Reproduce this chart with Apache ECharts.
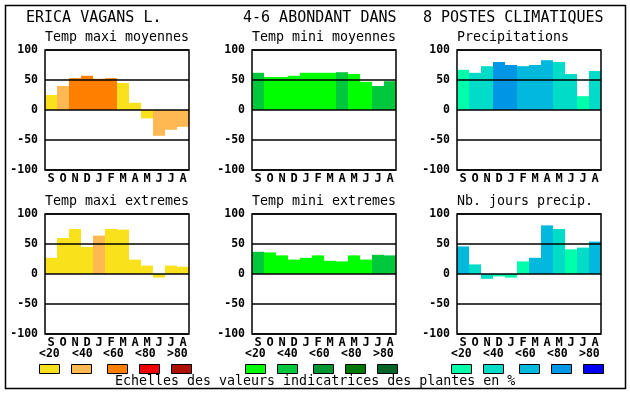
<!DOCTYPE html>
<html><head><meta charset="utf-8">
<script src="https://cdn.jsdelivr.net/npm/echarts@6/dist/echarts.min.js"></script>
<style>html,body{margin:0;padding:0;background:#fff}#c{width:630px;height:394px}</style>
</head><body><div id="c"></div>
<script>
const months = ['S','O','N','D','J','F','M','A','M','J','J','A'];
const yTicks = [-100, -50, 0, 50, 100];
const classLabels = ['<20','<40','<60','<80','>80'];

const titleLeft = 'ERICA VAGANS L.';
const titleMid = '4-6 ABONDANT DANS';
const titleRight = '8 POSTES CLIMATIQUES';
const footer = 'Echelles des valeurs indicatrices des plantes en %';

const panelNames = ['Temp maxi moyennes','Temp mini moyennes','Precipitations',
                    'Temp maxi extremes','Temp mini extremes','Nb. jours precip.'];

const tempMaxMoy = [25, 40, 53, 57, 52, 53, 45, 12, -14, -43, -33, -28];
const tempMaxMoyCls = [1, 2, 3, 3, 3, 3, 1, 1, 1, 2, 2, 2];
const tempMinMoy = [62, 55, 55, 57, 62, 62, 62, 63, 60, 47, 40, 48];
const tempMinMoyCls = [2, 1, 1, 1, 1, 1, 1, 2, 1, 1, 2, 2];
const precip = [67, 62, 73, 80, 75, 73, 75, 83, 80, 60, 23, 65];
const precipCls = [1, 2, 2, 4, 4, 3, 3, 3, 2, 2, 1, 2];
const tempMaxExt = [27, 60, 75, 45, 64, 75, 74, 24, 14, -6, 14, 12];
const tempMaxExtCls = [1, 1, 1, 1, 2, 1, 1, 1, 1, 1, 1, 1];
const tempMinExt = [37, 36, 31, 24, 27, 31, 22, 21, 31, 24, 32, 31];
const tempMinExtCls = [2, 1, 1, 1, 1, 1, 1, 1, 1, 1, 2, 2];
const joursPrecip = [46, 16, -8, -4, -6, 21, 27, 81, 75, 41, 44, 54];
const joursPrecipCls = [3, 2, 2, 1, 1, 1, 3, 3, 2, 1, 2, 3];

const warmColors = ['#F9E11C','#FFB852','#FF8000','#EE0000','#AD1000'];
const greenColors = ['#00FF00','#00C83C','#009632','#007800','#006428'];
const blueColors = ['#00FFAA','#00DCC8','#00B9DC','#0096E6','#0000F0'];

const panels = [
  {vals: tempMaxMoy, cls: tempMaxMoyCls, pal: warmColors},
  {vals: tempMinMoy, cls: tempMinMoyCls, pal: greenColors},
  {vals: precip, cls: precipCls, pal: blueColors},
  {vals: tempMaxExt, cls: tempMaxExtCls, pal: warmColors},
  {vals: tempMinExt, cls: tempMinExtCls, pal: greenColors},
  {vals: joursPrecip, cls: joursPrecipCls, pal: blueColors}
];

const FONT = 'DejaVu Sans Mono';
const lefts = [45, 252, 457];
const tops = [50, 214];
const W = 144, H = 120;

const grids = [], xAxes = [], yAxes = [], series = [], graphics = [];
panels.forEach((p, i) => {
  const col = i % 3, row = Math.floor(i / 3);
  grids.push({left: lefts[col], top: tops[row], width: W, height: H,
    show: true, borderColor: '#000', borderWidth: 1.5, z: 4, backgroundColor: 'transparent'});
  xAxes.push({type: 'category', gridIndex: i, data: months, boundaryGap: true,
    axisLine: {show: false}, axisTick: {show: false},
    axisLabel: {color: '#000', fontFamily: FONT, fontWeight: 'bold', fontSize: 12, margin: 3, interval: 0},
    splitLine: {show: false}});
  yAxes.push({type: 'value', gridIndex: i, min: yTicks[0], max: yTicks[yTicks.length-1], interval: 50, z: 3,
    axisLine: {show: false}, axisTick: {show: false},
    axisLabel: {color: '#000', fontFamily: FONT, fontWeight: 'bold', fontSize: 11.5, margin: 7},
    splitLine: {show: true, lineStyle: {color: '#000', width: 1.5}}});
  series.push({type: 'bar', xAxisIndex: i, yAxisIndex: i, barWidth: '100%', barCategoryGap: '0%',
    silent: true, animation: false,
    data: p.vals.map((v, k) => ({value: v, itemStyle: {color: p.pal[p.cls[k] - 1]}}))});
  graphics.push({type: 'text', left: lefts[col], top: row === 0 ? 31 : 195,
    style: {text: panelNames[i], font: '13.3px "' + FONT + '"', fill: '#000'}});
});

// titles
graphics.push({type: 'text', left: 26, top: 11, style: {text: titleLeft, font: '15px "' + FONT + '"', fill: '#000'}});
graphics.push({type: 'text', left: 243, top: 11, style: {text: titleMid, font: '15px "' + FONT + '"', fill: '#000'}});
graphics.push({type: 'text', left: 423, top: 11, style: {text: titleRight, font: '15px "' + FONT + '"', fill: '#000'}});
graphics.push({type: 'text', left: 115, top: 375, style: {text: footer, font: '13.3px "' + FONT + '"', fill: '#000'}});

// legends
const legLabelX = [[39,72,103,135,167],[245,277,309,341,373],[451,483,515,547,579]];
const legBoxX = [[39,71,107,139,171],[245,277,313,345,377],[451,483,519,551,583]];
const pals = [warmColors, greenColors, blueColors];
for (let c = 0; c < 3; c++) {
  for (let k = 0; k < 5; k++) {
    graphics.push({type: 'text', left: legLabelX[c][k], top: 348,
      style: {text: classLabels[k], font: 'bold 11.5px "' + FONT + '"', fill: '#000'}});
    graphics.push({type: 'rect', shape: {x: legBoxX[c][k] + 0.5, y: 364.5, width: 20, height: 9},
      style: {fill: pals[c][k], stroke: '#000', lineWidth: 1}});
  }
}
graphics.push({type: 'rect', shape: {x: 5.5, y: 5.5, width: 620, height: 383},
  style: {fill: 'none', stroke: '#000', lineWidth: 1.5}, z: 10});

const chart = echarts.init(document.getElementById('c'), null, {renderer: 'canvas'});
chart.setOption({
  backgroundColor: '#fff', animation: false,
  grid: grids, xAxis: xAxes, yAxis: yAxes, series: series, graphic: graphics
});
</script></body></html>
